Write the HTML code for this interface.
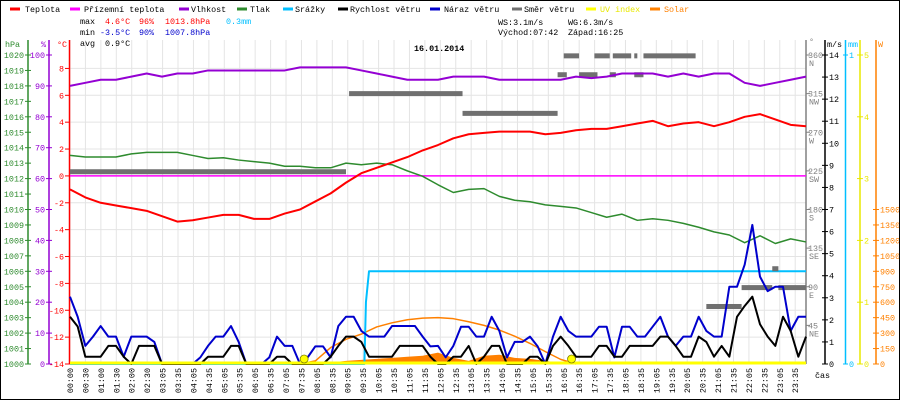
<!DOCTYPE html>
<html><head><meta charset="utf-8">
<style>
html,body{margin:0;padding:0;background:#fff;}
#wrap{position:relative;width:898px;height:398px;border:1px solid #000;overflow:hidden;}
svg{position:absolute;left:-1px;top:-1px;}
text{font-family:"Liberation Mono",monospace;font-size:8.4px;}
</style></head>
<body>
<div id="wrap">
<svg id="chart" width="900" height="400" xmlns="http://www.w3.org/2000/svg"></svg>
</div>
<script>
const halfHours = [0,0.5,1,1.5,2,2.5,3,3.5,4,4.5,5,5.5,6,6.5,7,7.5,8,8.5,9,9.5,10,10.5,11,11.5,12,12.5,13,13.5,14,14.5,15,15.5,16,16.5,17,17.5,18,18.5,19,19.5,20,20.5,21,21.5,22,22.5,23,23.5,24];
const temperature = [-1.0,-1.6,-2.0,-2.2,-2.4,-2.6,-3.0,-3.4,-3.3,-3.1,-2.9,-2.9,-3.2,-3.2,-2.8,-2.5,-1.9,-1.3,-0.5,0.2,0.6,1.0,1.4,1.9,2.3,2.8,3.1,3.2,3.3,3.3,3.3,3.1,3.2,3.4,3.5,3.5,3.7,3.9,4.1,3.7,3.9,4.0,3.7,4.0,4.4,4.6,4.2,3.8,3.7];
const feelsLike = [0,0,0,0,0,0,0,0,0,0,0,0,0,0,0,0,0,0,0,0,0,0,0,0,0,0,0,0,0,0,0,0,0,0,0,0,0,0,0,0,0,0,0,0,0,0,0,0,0];
const humidity = [90,91,92,92,93,94,93,94,94,95,95,95,95,95,95,96,96,96,96,95,94,93,92,92,92,93,93,93,92,92,92,92,92,93,92.5,93,94,94,94,93,94,93,94,94,91,90,91,92,93];
const pressure = [1013.5,1013.4,1013.4,1013.4,1013.6,1013.7,1013.7,1013.7,1013.5,1013.3,1013.35,1013.2,1013.1,1013.0,1012.8,1012.8,1012.7,1012.7,1013.0,1012.9,1013.0,1012.9,1012.5,1012.15,1011.6,1011.1,1011.3,1011.35,1010.85,1010.6,1010.5,1010.3,1010.2,1010.1,1009.8,1009.5,1009.7,1009.3,1009.4,1009.3,1009.1,1008.85,1008.55,1008.35,1007.85,1008.3,1007.8,1008.1,1007.9];
const windSpeed = [2.14,1.7,0.33,0.33,0.33,0.82,0.82,0.33,0,0.82,0.82,0.82,0,0,0,0,0,0,0.33,0.33,0.33,0.82,0.82,0,0,0,0,0.33,0.33,0,0,0,0,0,0.33,0.82,1.24,1.24,1.0,0.33,0.33,0.33,0.33,0.82,0.82,0.82,0.82,0.33,0,0,0.33,0.33,0.82,0,0.33,0.82,0.82,0,0,0,0.33,0.33,0,0.82,1.24,0.82,0.33,0.33,0.33,0.82,0.82,0.33,0.33,0.82,0.82,0.82,0.82,1.24,1.24,0.82,0.33,0.33,1.24,1.0,0.33,0.82,0.33,2.14,2.63,3.05,1.8,1.24,0.82,2.14,1.5,0.33,1.24];
const windGust = [3.05,2.14,0.82,1.24,1.72,1.24,1.24,0.33,1.24,1.24,1.24,1.0,0,0,0,0,0,0.3,0.82,1.24,1.24,1.72,1.0,0,0,0,0.3,1.24,0.82,0.82,0,0.3,0.8,0.8,0.3,1.72,2.14,2.14,1.5,1.24,1.24,1.24,1.72,1.72,1.72,1.72,1.24,0.8,0.82,0.3,0.82,1.69,1.69,1.24,1.24,2.14,1.5,0.3,1.0,1.0,1.24,0.8,0,1.24,2.14,1.5,1.24,1.24,1.24,1.69,1.69,0.3,1.69,1.69,1.24,1.24,1.69,2.14,1.24,0.82,1.24,1.24,2.14,1.5,1.24,1.24,3.5,3.5,4.5,6.3,3.96,3.3,3.5,3.5,1.5,2.14,2.14];
const dirStart = [0,9.1,12.8,15.9,16.1,16.6,17.1,17.6,17.7,18.4,18.4,18.7,20.75,21.9,22.9,23.1];
const dirEnd   = [9.0,12.8,15.9,16.2,16.6,17.2,17.6,17.8,18.3,18.7,18.5,20.4,21.9,22.9,23.1,24];
const dirDeg   = [224,315,292,337,359,337,359,337,359,337,359,359,67,89,111,89];
const rainTimes = [0,9.6,9.65,9.75,24];
const rainValues = [0,0,0.2,0.3,0.3];
const solarTimes = [7.5,8,8.5,9,9.5,10,10.5,11,11.5,12,12.5,13,13.5,14,14.5,15,15.5,16,16.5];
const solarClearSky = [0,30,160,240,290,360,400,430,445,450,440,410,375,330,270,200,120,45,0];
const solarMeasured = [0,5,15,30,40,50,60,70,80,110,60,30,80,90,60,50,30,10,0];
const sunEvents = [7.7,16.42];
const xLabels = ["00:00","00:30","01:00","01:30","02:00","02:30","03:05","03:35","04:05","04:35","05:05","05:35","06:05","06:35","07:05","07:35","08:05","08:35","09:05","09:35","10:05","10:35","11:05","11:35","12:05","12:35","13:05","13:35","14:05","14:35","15:05","15:35","16:05","16:35","17:05","17:35","18:05","18:35","19:05","19:35","20:05","20:35","21:05","21:35","22:05","22:35","23:05","23:35"];
const hpaTicks = [1000,1001,1002,1003,1004,1005,1006,1007,1008,1009,1010,1011,1012,1013,1014,1015,1016,1017,1018,1019,1020];
const pctTicks = [0,10,20,30,40,50,60,70,80,90,100];
const tempTicks = [-14,-12,-10,-8,-6,-4,-2,0,2,4,6,8];
const dirTicks = [45,90,135,180,225,270,315,360];
const dirNames = ["NE","E","SE","S","SW","W","NW","N"];
const msTicks = [0,1,2,3,4,5,6,7,8,9,10,11,12,13,14];
const uvTicks = [0,1,2,3,4,5];
const wTicks = [0,150,300,450,600,750,900,1050,1200,1350,1500];

const NS="http://www.w3.org/2000/svg";
const svg=document.getElementById('chart');
const X0=70,X1=806,YB=364,YT=55,H=YB-YT;
const X=h=>X0+h*(X1-X0)/24;
const Yt=t=>YB-(t+14)/23*H;
const Yp=p=>YB-(p-1000)/20*H;
const Yh=v=>YB-v/100*H;
const Yv=v=>YB-v/14*H;
const Yd=d=>YB-d/360*H;
const Ym=m=>YB-m*H;
const Yw=w=>YB-w/3000*H;
const Yuv=u=>YB-u/5*H;
function mk(tag,attrs,txt){const e=document.createElementNS(NS,tag);for(const k in attrs)e.setAttribute(k,attrs[k]);if(txt!==undefined)e.textContent=txt;svg.appendChild(e);return e;}

for(let i=0;i<xLabels.length;i++){const x=X0+i*15.43;
 const g=mk('line',{x1:x,x2:x,y1:40,y2:YB,stroke:'#e4e4e4','stroke-width':1});
 
 }
tempTicks.forEach(t=>{const y=Yt(t);
 const g=mk('line',{x1:X0,x2:X1,y1:y,y2:y,stroke:'#e4e4e4','stroke-width':1});
 
 });

const legend=[["Teplota","#ff0000",10,25],["Přízemní teplota","#ff00ff",70,84],["Vlhkost","#9400d3",179,191],["Tlak","#2e8b2e",237,250],["Srážky","#00bfff",283,295],["Rychlost větru","#000000",338,350],["Náraz větru","#0000cc",430,444],["Směr větru","#707070",512,524],["UV index","#ffff00",586,600],["Solar","#ff8000",650,664]];
legend.forEach(l=>{
 const d=mk('line',{x1:l[2],x2:l[2]+10,y1:9,y2:9,stroke:l[1],'stroke-width':3});
 
 
 const t=mk('text',{x:l[3],y:12,fill:(l[0]=="UV index"?'#e8e800':(l[0]=="Solar"?'#ff8000':'#000'))},l[0]);
 
 });

const stats=[["max",80,24,"#000"],["4.6°C",105,24,"#ff0000"],["96%",139,24,"#ff0000"],["1013.8hPa",165,24,"#ff0000"],["0.3mm",226,24,"#00bfff"],
["min",80,35,"#000"],["-3.5°C",100,35,"#0000cc"],["90%",139,35,"#0000cc"],["1007.8hPa",165,35,"#0000cc"],
["avg",80,46,"#000"],["0.9°C",105,46,"#000"],
["WS:3.1m/s",498,25,"#000"],["WG:6.3m/s",568,25,"#000"],["Východ:07:42",498,35,"#000"],["Západ:16:25",568,35,"#000"]];
stats.forEach(s=>{const t=mk('text',{x:s[1],y:s[2],fill:s[3]},s[0]);
 
 });
const ttl=mk('text',{x:414,y:51,fill:'#000','font-size':'13px','font-weight':'bold'},"16.01.2014");



function axisLine(x,color,name){const l=mk('line',{x1:x,x2:x,y1:40,y2:YB,stroke:color,'stroke-width':1.5});
 
 }
axisLine(28,'#2e8b2e','hpa-axis');axisLine(49,'#9400d3','humidity-axis');axisLine(69.5,'#ff0000','temp-axis');
axisLine(806,'#808080','direction-axis');axisLine(825,'#000','wind-axis');axisLine(845.5,'#00bfff','rain-axis');axisLine(860,'#e8e800','uv-axis');axisLine(876,'#ff8000','solar-axis');
function tick(x1,x2,y,c){const l=mk('line',{x1:x1,x2:x2,y1:y,y2:y,stroke:c,'stroke-width':1});
 
 }
function lab(txt,x,y,c,anchor,name){const t=mk('text',{x:x,y:y,fill:c,'text-anchor':anchor||'start'},txt);
 
 return t;}
hpaTicks.forEach(p=>{const y=Yp(p);tick(25,31,y,'#2e8b2e');lab(String(p),24,y+3,'#2e8b2e','end','hpa-tick-label');});
pctTicks.forEach(p=>{const y=Yh(p);tick(46,52,y,'#9400d3');lab(String(p),45,y+3,'#9400d3','end','humidity-tick-label');});
tempTicks.forEach(t=>{const y=Yt(t);tick(65,70,y,'#ff0000');lab(String(t),64,y+3,'#ff0000','end','temp-tick-label');});
dirTicks.forEach((d,i)=>{const y=Yd(d);tick(806,810,y,'#808080');lab(String(d),808,y+3,'#808080','start','direction-tick-label');lab(dirNames[i],809,y+11,'#808080','start','direction-name-label');});
msTicks.forEach(v=>{const y=Yv(v);tick(822,828,y,'#000');lab(String(v),829,y+3,'#000','start','wind-tick-label');});
[0,1].forEach(m=>{const y=Ym(m);tick(843,848,y,'#00bfff');lab(String(m),849,y+3,'#00bfff','start','rain-tick-label');});
uvTicks.forEach(u=>{const y=Yuv(u);tick(857,863,y,'#e8e800');lab(String(u),864,y+3,'#e8e800','start','uv-tick-label');});
wTicks.forEach(w=>{const y=Yw(w);tick(873,879,y,'#ff8000');lab(String(w),880,y+3,'#ff8000','start','solar-tick-label');});
lab("hPa",5,47,'#2e8b2e','start','hpa-unit');lab("%",41,47,'#9400d3','start','humidity-unit');lab("°C",57,47,'#ff0000','start','temp-unit');
lab("°",809,44,'#808080','start','direction-unit');lab("m/s",827,47,'#000','start','wind-unit');lab("mm",848,47,'#00bfff','start','rain-unit');lab("W",878,47,'#ff8000','start','solar-unit');
lab("čas",815,378,'#000','start','x-axis-title');

xLabels.forEach((s,i)=>{const x=X0+i*15.43+3;
 const t=mk('text',{x:0,y:0,fill:'#000','text-anchor':'end',transform:`translate(${x},368) rotate(-90)`},s);
 
 });

(function(){let pts=solarTimes.map((h,i)=>X(h)+','+Yw(solarMeasured[i]));
 pts.push(X(solarTimes[solarTimes.length-1])+','+YB);pts.unshift(X(solarTimes[0])+','+YB);
 const p=mk('polygon',{points:pts.join(' '),fill:'#ff8000'});
 
 })();

function series(xs,ys,yf,color,w,name){let pts=[];
 for(let i=0;i<ys.length;i++){pts.push(X(xs[i])+','+yf(ys[i]));}
 const p=mk('polyline',{points:pts.join(' '),fill:'none',stroke:color,'stroke-width':w,'stroke-linejoin':'round'});
 
 }
const quarters=windSpeed.map((v,i)=>i*0.25);
series(solarTimes,solarClearSky,Yw,'#ff8000',1.5,'solar-clear-sky-line');
series(rainTimes,rainValues,Ym,'#00bfff',2,'rain-line');
dirDeg.forEach((d,i)=>{const r=mk('rect',{x:X(dirStart[i]),y:Yd(d)-2.5,width:Math.max(3,X(dirEnd[i])-X(dirStart[i])),height:5,fill:'#707070'});
 
 });
series(halfHours,feelsLike,Yt,'#ff00ff',1.5,'feels-like-line');
series(halfHours,humidity,Yh,'#9400d3',2,'humidity-line');
series(halfHours,pressure,Yp,'#2e8b2e',1.5,'pressure-line');
series(halfHours,temperature,Yt,'#ff0000',2,'temperature-line');
series(quarters,windGust,Yv,'#0000cc',2,'wind-gust-line');
series(quarters,windSpeed,Yv,'#000000',2,'wind-speed-line');
const uv=mk('line',{x1:X0,x2:X1,y1:YB-1,y2:YB-1,stroke:'#ffff00','stroke-width':3});


sunEvents.forEach(h=>{const c=mk('circle',{cx:X(h)-2,cy:YB-5,r:4,fill:'#ffff00',stroke:'#808000','stroke-width':0.8});
 
 });
</script>
</body></html>
